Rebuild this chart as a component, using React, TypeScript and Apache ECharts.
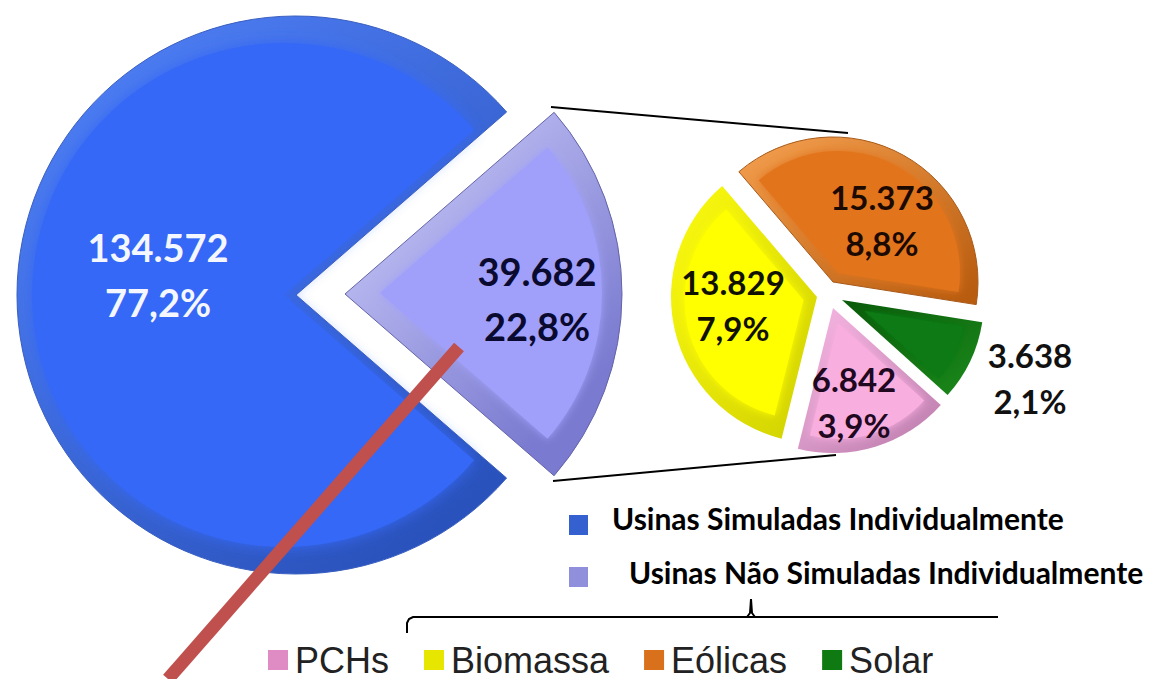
import React, { useEffect, useRef } from "react";
import * as echarts from "echarts";

const mainNames = ["Usinas Simuladas Individualmente", "Usinas Não Simuladas Individualmente"];
const mainValues = [134572, 39682];
const detailNames = ["Eólicas", "Solar", "PCHs", "Biomassa"];
const detailValues = [15373, 3638, 6842, 13829];
const legendOrder = ["PCHs", "Biomassa", "Eólicas", "Solar"];
const total = mainValues[0] + mainValues[1];

const FONT = "Lato";
const lg = (a: string, b: string, x = 0, y = 0, x2 = 1, y2 = 1) =>
  new echarts.graphic.LinearGradient(x, y, x2, y2, [
    { offset: 0, color: a },
    { offset: 1, color: b },
  ]);

const fmtLabel = (p: any) => {
  const v = String(p.value).replace(/\B(?=(\d{3})+$)/g, ".");
  const pct = ((p.value / total) * 100).toFixed(1).replace(".", ",");
  return `${v}\n${pct}%`;
};

function layer(
  names: string[],
  values: number[],
  idx: number,
  startAngle: number,
  center: number[],
  r: number,
  color: any,
  extra: any = {},
  label?: { x: number; y: number; size: number; lh: number; color: string }
) {
  return {
    type: "pie",
    silent: true,
    clockwise: true,
    startAngle,
    center,
    radius: [0, r],
    avoidLabelOverlap: false,
    emphasis: { disabled: true },
    labelLine: { show: false },
    label: { show: false },
    labelLayout: label ? { x: label.x, y: label.y, align: "center", verticalAlign: "middle" } : undefined,
    data: values.map((value, i) =>
      i === idx
        ? {
            value,
            name: names[i],
            itemStyle: { color, ...extra },
            label: label
              ? {
                  show: true,
                  position: "inside",
                  formatter: fmtLabel,
                  fontFamily: FONT,
                  fontWeight: "bold",
                  fontSize: label.size,
                  lineHeight: label.lh,
                  color: label.color,
                }
              : { show: false },
          }
        : { value, name: names[i], itemStyle: { color: "transparent" }, label: { show: false } }
    ),
  };
}

const soft = (c: string, b = 10) => ({ shadowBlur: b, shadowColor: c });
const edge = (c: string) => ({ borderWidth: 1, borderColor: c });

const series = [
  layer(mainNames, mainValues, 0, -41, [296, 295], 279, lg("#5283fb", "#2a52bc", 0, 0, 0.75, 1), edge("#3a5fc0")),
  layer(mainNames, mainValues, 0, -41, [284, 295], 252, "#3568f6", soft("#3568f6", 14), { x: 158, y: 274, size: 38, lh: 55, color: "#f4f7ff" }),
  layer(mainNames, mainValues, 1, -41, [345, 294], 277, lg("#d2d2fe", "#7a7ad0", 0, 0, 0.7, 0.9), edge("#6464a8")),
  layer(mainNames, mainValues, 1, -41, [380, 293], 222, "#a0a0fb", soft("#a0a0fb", 8), { x: 537, y: 298, size: 38, lh: 55, color: "#0a0a30" }),

  layer(detailNames, detailValues, 0, 130.5, [833, 282], 145, lg("#f5a050", "#b85c10", 0, 0, 0.9, 1), edge("#a85a18")),
  layer(detailNames, detailValues, 0, 130.5, [838, 273], 122, "#e2741c", soft("#e2741c", 8), { x: 882, y: 220, size: 33, lh: 46, color: "#1c0a00" }),
  layer(detailNames, detailValues, 1, 130.5, [842, 300], 142, lg("#0a5a0a", "#1b8a1b", 0, 0, 1, 1)),
  layer(detailNames, detailValues, 1, 130.5, [864.5, 311], 100, "#0f7a12", soft("#0f7a12", 4), { x: 1030, y: 378, size: 33, lh: 46, color: "#111111" }),
  layer(detailNames, detailValues, 2, 130.5, [833, 308], 145, lg("#f8b8e4", "#c080b0", 0, 0, 0.8, 1)),
  layer(detailNames, detailValues, 2, 130.5, [838, 323], 116, "#f9aee0", soft("#f9aee0", 8), { x: 854, y: 402, size: 33, lh: 46, color: "#200820" }),
  layer(detailNames, detailValues, 3, 130.5, [817, 297], 146, lg("#fbfb10", "#d0d000", 0, 0, 1, 1)),
  layer(detailNames, detailValues, 3, 130.5, [803.5, 300], 119, "#ffff00", soft("#ffff00", 8), { x: 733, y: 305, size: 33, lh: 46, color: "#111100" }),
];

const legendColors: Record<string, string> = {
  PCHs: "#e08cc4",
  Biomassa: "#e6e600",
  "Eólicas": "#d9701c",
  Solar: "#0f7a12",
};

const mainLegend = (i: number, top: number, pad: number, h: number, color: string) => ({
  left: 564,
  top,
  orient: "horizontal",
  selectedMode: false,
  // the marker sits low in its slot, so the text rides above the marker's middle
  icon: `path://M0,0L0,0ZM0,${h - 20}H19V${h}H0Z`,
  itemWidth: 19,
  itemHeight: h,
  data: [{ name: mainNames[i], itemStyle: { color, borderWidth: 0 } }],
  textStyle: {
    fontFamily: FONT,
    fontWeight: "bold",
    fontSize: 30,
    lineHeight: 30,
    color: "#000",
    padding: [0, 0, 0, pad],
  },
});

const option = {
  animation: false,
  backgroundColor: "#ffffff",
  legend: [
    mainLegend(0, 496, 19, 34, "#3560d0"),
    mainLegend(1, 552, 36, 30, "#8f8fdc"),
    {
      left: 263,
      top: 637,
      selectedMode: false,
      icon: "rect",
      itemWidth: 20,
      itemHeight: 20,
      itemGap: 35,
      data: legendOrder.map((name) => ({ name, itemStyle: { color: legendColors[name], borderWidth: 0 } })),
      textStyle: {
        fontFamily: "Liberation Sans",
        fontSize: 36,
        lineHeight: 28,
        color: "#222",
        padding: [2, 0, 0, 2],
      },
    },
  ],
  series,
  graphic: [
    { type: "line", z: 100, shape: { x1: 551, y1: 107, x2: 848, y2: 133 }, style: { stroke: "#000", lineWidth: 2 } },
    { type: "line", z: 100, shape: { x1: 553, y1: 481, x2: 836, y2: 455 }, style: { stroke: "#000", lineWidth: 2 } },
    {
      type: "polyline",
      z: 100,
      shape: { points: [[407, 633], [407, 623], [409, 619], [413, 617], [998, 617]] },
      style: { stroke: "#000", lineWidth: 2, fill: "none" },
    },
    {
      type: "polyline",
      z: 100,
      shape: { points: [[747, 617], [750, 613], [751, 599], [752, 613], [755, 617]] },
      style: { stroke: "#000", lineWidth: 2, fill: "none" },
    },
    { type: "line", z: 100, shape: { x1: 459, y1: 347, x2: 168, y2: 679 }, style: { stroke: "#c0504d", lineWidth: 13 } },
  ],
};

export default function App() {
  const ref = useRef<HTMLDivElement>(null);
  useEffect(() => {
    const chart = echarts.init(ref.current!, undefined, { renderer: "svg" });
    chart.setOption(option as any);
    return () => chart.dispose();
  }, []);
  return <div ref={ref} style={{ position: "absolute", left: 0, top: 0, width: 1160, height: 679 }} />;
}
